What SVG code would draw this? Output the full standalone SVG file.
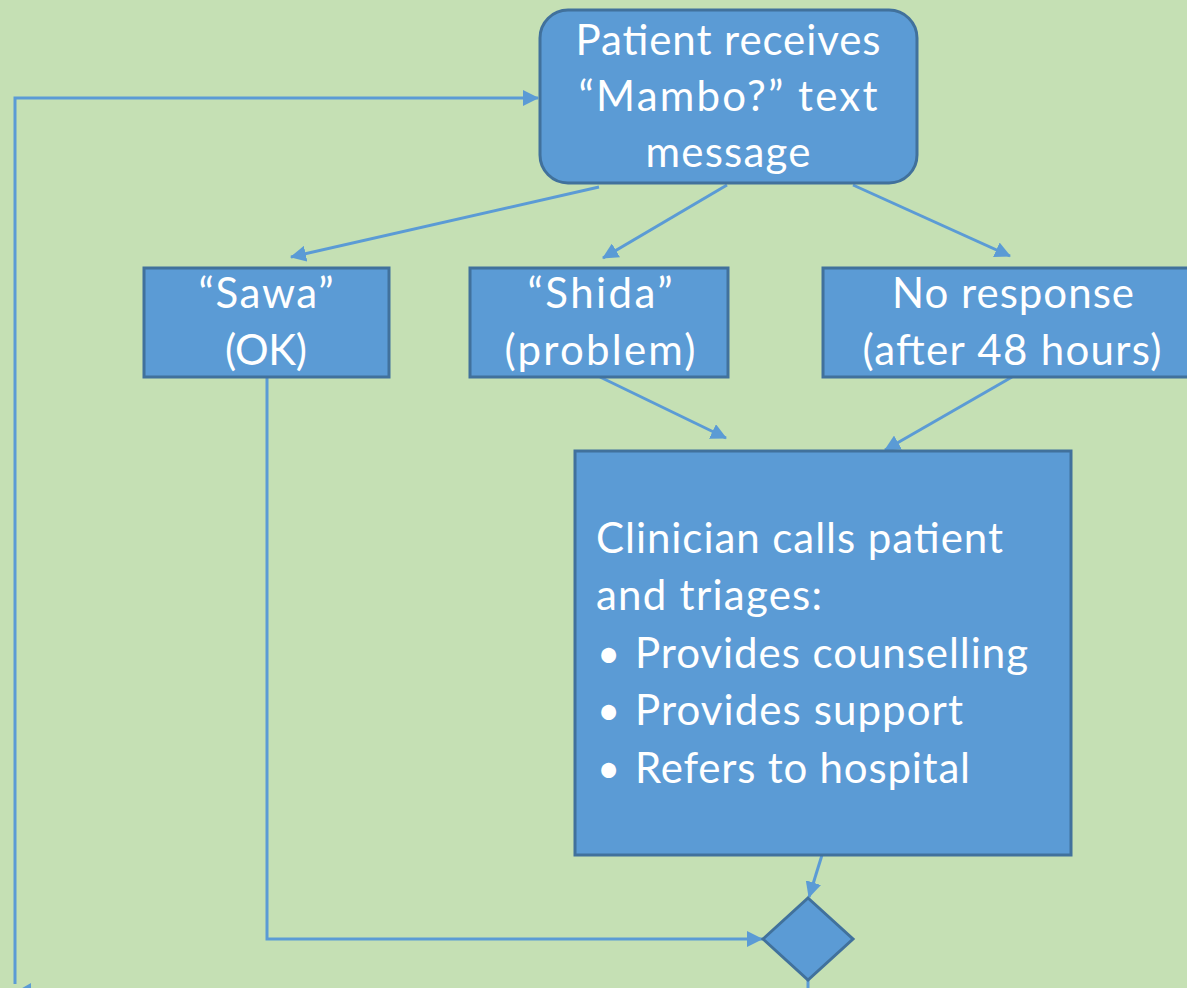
<svg xmlns="http://www.w3.org/2000/svg" width="1187" height="988" viewBox="0 0 1187 988">
<defs>
<marker id="arr" markerUnits="userSpaceOnUse" markerWidth="16" markerHeight="16" refX="15" refY="8" orient="auto" viewBox="0 0 16 16">
<path d="M0,0 L16,8 L0,16 Z" fill="#5b9bd5"/>
</marker>
<style>
.node{fill:#5b9bd5;stroke:#41719c;stroke-width:3}
.t{fill:#ffffff;font-family:Lato,"Open Sans",sans-serif}
.c{text-anchor:middle}
.con{fill:none;stroke:#5b9bd5;stroke-width:3}
</style>
</defs>
<rect width="1187" height="988" fill="#c5e0b4"/>
<g id="connectors">
<polyline class="con" points="808,980 808,988"/>
<polyline class="con" points="15,984 15,98 538,98" marker-end="url(#arr)"/>
<polygon points="31,983 17,991 31,999" fill="#5b9bd5"/>
<line class="con" x1="599" y1="187" x2="291" y2="257" stroke-width="4" marker-end="url(#arr)"/>
<line class="con" x1="727" y1="185" x2="603" y2="258" marker-end="url(#arr)"/>
<line class="con" x1="853" y1="185" x2="1010" y2="256" marker-end="url(#arr)"/>
<line class="con" x1="600" y1="377" x2="726" y2="438" marker-end="url(#arr)"/>
<line class="con" x1="1012" y1="377" x2="885" y2="450" marker-end="url(#arr)"/>
<polyline class="con" points="267,378 267,939 762,939" marker-end="url(#arr)"/>
<line class="con" x1="822" y1="855" x2="809" y2="897" marker-end="url(#arr)"/>
</g>
<g id="start">
<rect class="node" x="540" y="10" width="377" height="173" rx="28"/>
<text class="t c" font-size="42" x="728" y="55" textLength="305" lengthAdjust="spacing">Patient receives</text>
<text class="t c" font-size="42" x="728" y="111" textLength="299" lengthAdjust="spacing">“Mambo?” text</text>
<text class="t c" font-size="42" x="728" y="167" textLength="165" lengthAdjust="spacing">message</text>
</g>
<g id="sawa">
<rect class="node" x="144" y="268" width="245" height="109"/>
<text class="t c" font-size="42" x="266" y="308" textLength="135" lengthAdjust="spacing">“Sawa”</text>
<text class="t c" font-size="42" x="266" y="365" textLength="82" lengthAdjust="spacing">(OK)</text>
</g>
<g id="shida">
<rect class="node" x="470" y="268" width="258" height="109"/>
<text class="t c" font-size="42" x="600" y="308" textLength="145" lengthAdjust="spacing">“Shida”</text>
<text class="t c" font-size="42" x="600" y="365" textLength="191" lengthAdjust="spacing">(problem)</text>
</g>
<g id="noresponse">
<rect class="node" x="823" y="268" width="380" height="109"/>
<text class="t c" font-size="42" x="1013" y="308" textLength="242" lengthAdjust="spacing">No response</text>
<text class="t c" font-size="42" x="1012" y="365" textLength="299" lengthAdjust="spacing">(after 48 hours)</text>
</g>
<g id="clinician">
<rect class="node" x="575" y="451" width="496" height="404"/>
<text class="t" font-size="42" x="596" y="553" textLength="407" lengthAdjust="spacing">Clinician calls patient</text>
<text class="t" font-size="42" x="596" y="610" textLength="226" lengthAdjust="spacing">and triages:</text>
<text class="t" font-size="40" x="597" y="668">•</text>
<text class="t" font-size="42" x="635" y="668" textLength="393" lengthAdjust="spacing">Provides counselling</text>
<text class="t" font-size="40" x="597" y="725">•</text>
<text class="t" font-size="42" x="635" y="725" textLength="328" lengthAdjust="spacing">Provides support</text>
<text class="t" font-size="40" x="597" y="783">•</text>
<text class="t" font-size="42" x="635" y="783" textLength="335" lengthAdjust="spacing">Refers to hospital</text>
</g>
<g id="decision">
<polygon class="node" points="808,898 853,939 808,980 763,939"/>
</g>
</svg>
